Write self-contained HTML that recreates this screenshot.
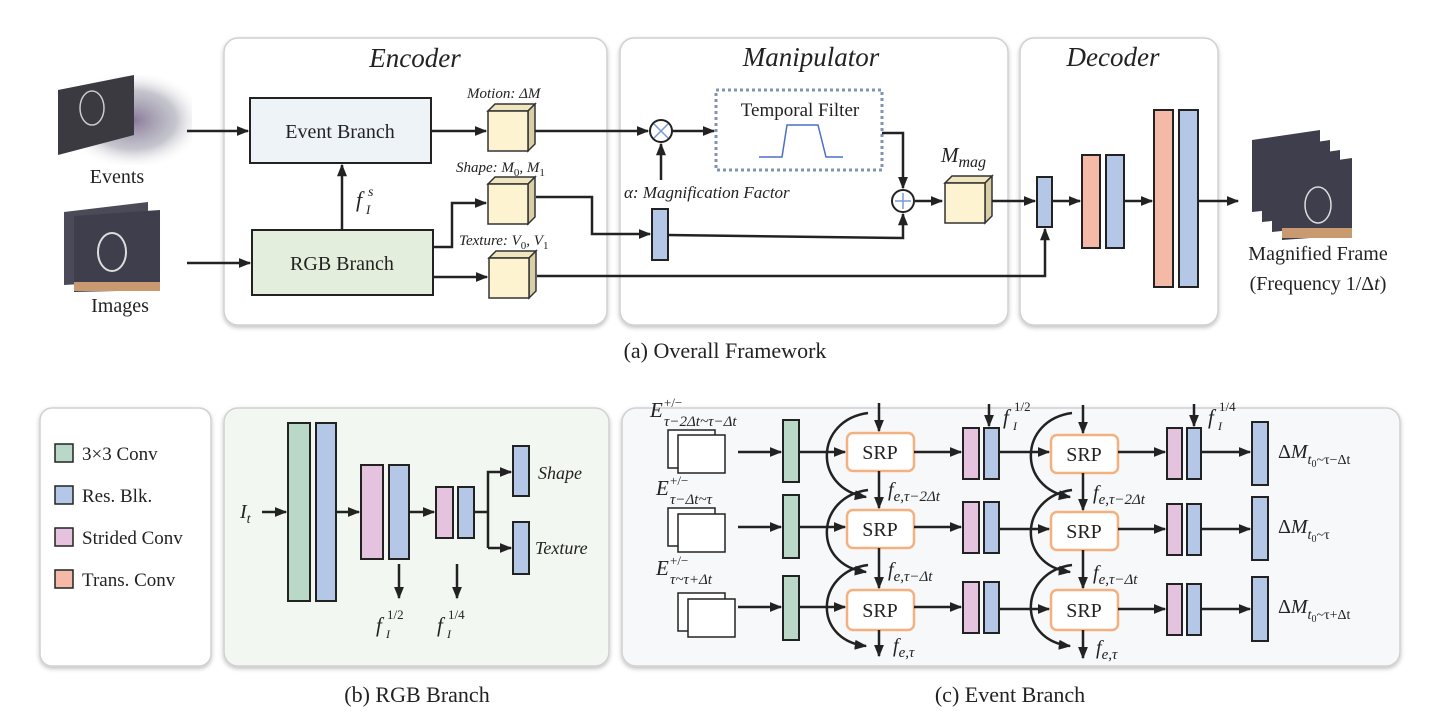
<!DOCTYPE html>
<html><head><meta charset="utf-8"><style>
html,body{margin:0;padding:0;background:#fff;}
svg{display:block;font-family:"Liberation Serif",serif;}
</style></head><body>
<svg width="1449" height="724" viewBox="0 0 1449 724" xmlns="http://www.w3.org/2000/svg">
<defs>
<marker id="a" viewBox="0 0 10 10" refX="9" refY="5" markerWidth="5" markerHeight="5" orient="auto-start-reverse" markerUnits="strokeWidth"><path d="M0,1 L10,5 L0,9 z" fill="#222"/></marker>
<filter id="sh" x="-5%" y="-5%" width="110%" height="110%"><feDropShadow dx="0" dy="2" stdDeviation="2" flood-color="#000" flood-opacity="0.25"/></filter>
<radialGradient id="ev" cx="0.55" cy="0.5" r="0.55"><stop offset="0" stop-color="#8a7a9a"/><stop offset="0.6" stop-color="#a0a0ae" stop-opacity="0.6"/><stop offset="1" stop-color="#fff" stop-opacity="0"/></radialGradient>
</defs>
<g fill="none" stroke="#222" stroke-width="2.5">
<g stroke="#d0d0d0" stroke-width="1.5" filter="url(#sh)">
<rect x="224" y="38" width="383" height="287" rx="14" fill="#fff"/>
<rect x="620" y="38" width="388" height="287" rx="14" fill="#fff"/>
<rect x="1020" y="38" width="198" height="287" rx="14" fill="#fff"/>
<rect x="40" y="408" width="171" height="258" rx="12" fill="#fff"/>
<rect x="224" y="408" width="385" height="258" rx="14" fill="#f3f7f1"/>
<rect x="622" y="408" width="778" height="258" rx="14" fill="#f7f8fa"/>
</g>
<g stroke="none">
<rect x="62" y="75" width="130" height="90" fill="url(#ev)"/>
<polygon points="58,90 134,75 134,135 58,155" fill="#3a3a40"/>
<ellipse cx="92" cy="108" rx="12" ry="17" stroke="#ccc" stroke-width="1.5" fill="none"/>
<polygon points="64,212 148,202 148,280 64,285" fill="#4a4a58"/>
<polygon points="74,216 160,210 160,290 74,292" fill="#3e3e4c"/>
<rect x="74" y="282" width="86" height="9" fill="#c99a70"/>
<ellipse cx="112" cy="252" rx="14" ry="19" stroke="#ddd" stroke-width="2" fill="none"/>
<g fill="#3e3e4c"><polygon points="1252,140 1320,130 1320,205 1252,212"/><polygon points="1262,150 1330,140 1330,215 1262,222"/><polygon points="1272,160 1340,150 1340,225 1272,232"/><polygon points="1282,168 1352,158 1352,235 1282,240"/></g>
<rect x="1282" y="228" width="70" height="10" fill="#c99a70"/>
<ellipse cx="1318" cy="205" rx="13" ry="18" stroke="#ddd" stroke-width="1.5" fill="none"/>
</g>
<rect x="250" y="98" width="181" height="65" fill="#eef3f8" stroke-width="2"/>
<rect x="252" y="230" width="181" height="65" fill="#e3efdc" stroke-width="2"/>
<path d="M187 131H248" marker-end="url(#a)"/>
<path d="M187 263H250" marker-end="url(#a)"/>
<path d="M342 230V165" marker-end="url(#a)"/>
<path d="M431 131H486" marker-end="url(#a)"/>
<path d="M433 247H452V203H486" marker-end="url(#a)"/>
<path d="M433 277H487" marker-end="url(#a)"/>
<g stroke-width="1.5" stroke="#333">
<g transform="translate(488,104)"><path d="M0 7L7 0H47L40 7z" fill="#efe5be"/><path d="M40 7L47 0V40L40 47z" fill="#d8cfa6"/><rect x="0" y="7" width="40" height="40" fill="#fdf3d0"/></g>
<g transform="translate(488,177)"><path d="M0 7L7 0H47L40 7z" fill="#efe5be"/><path d="M40 7L47 0V40L40 47z" fill="#d8cfa6"/><rect x="0" y="7" width="40" height="40" fill="#fdf3d0"/></g>
<g transform="translate(489,251)"><path d="M0 7L7 0H47L40 7z" fill="#efe5be"/><path d="M40 7L47 0V40L40 47z" fill="#d8cfa6"/><rect x="0" y="7" width="40" height="40" fill="#fdf3d0"/></g>
<g transform="translate(945,176)"><path d="M0 7L7 0H47L40 7z" fill="#efe5be"/><path d="M40 7L47 0V40L40 47z" fill="#d8cfa6"/><rect x="0" y="7" width="40" height="40" fill="#fdf3d0"/></g>
</g>
<path d="M535 131H648" marker-end="url(#a)"/>
<circle cx="661" cy="131" r="11" stroke-width="2" fill="#fff"/>
<path d="M654 124L668 138M668 124L654 138" stroke="#7a9ad8" stroke-width="1.5"/>
<path d="M672 131H714" marker-end="url(#a)"/>
<path d="M661 180V144" marker-end="url(#a)"/>
<rect x="716" y="90" width="166" height="80" stroke="#8093b0" stroke-width="3" stroke-dasharray="3,3"/>
<path d="M759 157H782L787 125H818L826 157H843" stroke="#4a70c8" stroke-width="1.5"/>
<path d="M882 133H903V188" marker-end="url(#a)"/>
<path d="M536 197H592V234H650" marker-end="url(#a)"/>
<rect x="652" y="209" width="16" height="51" fill="#b4c7e7" stroke-width="2"/>
<path d="M668 235L903 238V214" marker-end="url(#a)"/>
<circle cx="903" cy="201" r="11" stroke-width="2" fill="#fff"/>
<path d="M895 201H911M903 193V209" stroke="#7a9ad8" stroke-width="1.5"/>
<path d="M915 201H942" marker-end="url(#a)"/>
<path d="M537 276H1045V229" marker-end="url(#a)"/>
<path d="M992 201H1035" marker-end="url(#a)"/>
<g stroke-width="2">
<rect x="1037" y="177" width="15" height="50" fill="#b4c7e7"/>
<rect x="1082" y="155" width="18" height="93" fill="#f5b9a8"/>
<rect x="1106" y="155" width="18" height="93" fill="#b4c7e7"/>
<rect x="1154" y="110" width="19" height="177" fill="#f5b9a8"/>
<rect x="1179" y="110" width="19" height="177" fill="#b4c7e7"/>
</g>
<path d="M1052 201H1080" marker-end="url(#a)"/>
<path d="M1124 201H1152" marker-end="url(#a)"/>
<path d="M1198 201H1238" marker-end="url(#a)"/>
<g stroke-width="1.5">
<rect x="55" y="444" width="18" height="18" fill="#b9d8c8"/>
<rect x="55" y="486" width="18" height="18" fill="#b4c7e7"/>
<rect x="55" y="528" width="18" height="18" fill="#e5c3de"/>
<rect x="55" y="570" width="18" height="18" fill="#f5b9a8"/>
</g>
<g stroke-width="2">
<rect x="288" y="423" width="22" height="178" fill="#b9d8c8"/>
<rect x="316" y="423" width="20" height="178" fill="#b4c7e7"/>
<rect x="361" y="465" width="22" height="94" fill="#e5c3de"/>
<rect x="389" y="465" width="20" height="94" fill="#b4c7e7"/>
<rect x="436" y="487" width="17" height="51" fill="#e5c3de"/>
<rect x="458" y="487" width="16" height="51" fill="#b4c7e7"/>
<rect x="513" y="446" width="16" height="50" fill="#b4c7e7"/>
<rect x="513" y="522" width="16" height="52" fill="#b4c7e7"/>
</g>
<path d="M262 512H286" marker-end="url(#a)"/>
<path d="M336 512H359" marker-end="url(#a)"/>
<path d="M409 512H434" marker-end="url(#a)"/>
<path d="M474 512H488"/>
<path d="M488 548V472H511" marker-end="url(#a)"/>
<path d="M488 548H511" marker-end="url(#a)"/>
<path d="M399 564V598" marker-end="url(#a)"/>
<path d="M457 564V598" marker-end="url(#a)"/>
<g stroke-width="1.5" fill="#fff">
<rect x="668" y="430" width="47" height="38"/><rect x="678" y="435" width="47" height="38"/>
<rect x="668" y="508" width="47" height="38"/><rect x="678" y="514" width="47" height="38"/>
<rect x="678" y="593" width="47" height="38"/><rect x="688" y="599" width="47" height="38"/>
</g>
<g stroke-width="2">
<rect x="783" y="420" width="16" height="62" fill="#b9d8c8"/>
<rect x="783" y="495" width="16" height="63" fill="#b9d8c8"/>
<rect x="783" y="576" width="16" height="64" fill="#b9d8c8"/>
</g>
<g stroke="#f5b080" stroke-width="2.5" fill="#fff">
<rect x="847" y="433" width="67" height="38" rx="6"/>
<rect x="847" y="510" width="67" height="38" rx="6"/>
<rect x="847" y="590" width="67" height="40" rx="6"/>
<rect x="1051" y="435" width="67" height="38" rx="6"/>
<rect x="1051" y="512" width="67" height="38" rx="6"/>
<rect x="1051" y="590" width="67" height="40" rx="6"/>
</g>
<g stroke-width="2">
<rect x="963" y="428" width="16" height="51" fill="#e5c3de"/><rect x="984" y="428" width="15" height="51" fill="#b4c7e7"/>
<rect x="963" y="502" width="16" height="51" fill="#e5c3de"/><rect x="984" y="502" width="15" height="51" fill="#b4c7e7"/>
<rect x="963" y="582" width="16" height="51" fill="#e5c3de"/><rect x="984" y="582" width="15" height="51" fill="#b4c7e7"/>
<rect x="1167" y="428" width="15" height="51" fill="#e5c3de"/><rect x="1187" y="428" width="14" height="51" fill="#b4c7e7"/>
<rect x="1167" y="504" width="15" height="51" fill="#e5c3de"/><rect x="1187" y="504" width="14" height="51" fill="#b4c7e7"/>
<rect x="1167" y="584" width="15" height="51" fill="#e5c3de"/><rect x="1187" y="584" width="14" height="51" fill="#b4c7e7"/>
<rect x="1252" y="422" width="16" height="63" fill="#b4c7e7"/>
<rect x="1252" y="497" width="16" height="63" fill="#b4c7e7"/>
<rect x="1252" y="577" width="16" height="64" fill="#b4c7e7"/>
</g>
<path d="M738 452H781" marker-end="url(#a)"/><path d="M738 527H781" marker-end="url(#a)"/><path d="M738 607H781" marker-end="url(#a)"/>
<path d="M799 452H845" marker-end="url(#a)"/><path d="M799 527H845" marker-end="url(#a)"/><path d="M799 607H845" marker-end="url(#a)"/>
<path d="M914 452H961" marker-end="url(#a)"/><path d="M914 527H961" marker-end="url(#a)"/><path d="M914 607H961" marker-end="url(#a)"/>
<path d="M999 452H1049" marker-end="url(#a)"/><path d="M999 529H1049" marker-end="url(#a)"/><path d="M999 609H1049" marker-end="url(#a)"/>
<path d="M1118 452H1165" marker-end="url(#a)"/><path d="M1118 529H1165" marker-end="url(#a)"/><path d="M1118 609H1165" marker-end="url(#a)"/>
<path d="M1201 452H1250" marker-end="url(#a)"/><path d="M1201 529H1250" marker-end="url(#a)"/><path d="M1201 609H1250" marker-end="url(#a)"/>
<path d="M879 403V431" marker-end="url(#a)"/><path d="M879 471V508" marker-end="url(#a)"/><path d="M879 548V588" marker-end="url(#a)"/><path d="M879 630V656" marker-end="url(#a)"/>
<path d="M1083 405V433" marker-end="url(#a)"/><path d="M1083 473V510" marker-end="url(#a)"/><path d="M1083 550V588" marker-end="url(#a)"/><path d="M1083 630V658" marker-end="url(#a)"/>
<path d="M989 404V426" marker-end="url(#a)"/><path d="M1194 404V426" marker-end="url(#a)"/>
<path d="M868 413C815 420 812 488 866 497" marker-end="url(#a)"/>
<path d="M868 490C815 497 812 565 866 572" marker-end="url(#a)"/>
<path d="M868 565C815 572 812 640 866 646" marker-end="url(#a)"/>
<path d="M1072 413C1019 420 1016 488 1070 497" marker-end="url(#a)"/>
<path d="M1072 490C1019 497 1016 565 1070 572" marker-end="url(#a)"/>
<path d="M1072 565C1019 572 1016 640 1070 646" marker-end="url(#a)"/>
</g>
<g fill="#222" font-size="20">
<g font-style="italic" font-size="27" text-anchor="middle">
<text x="415" y="67">Encoder</text><text x="811" y="66">Manipulator</text><text x="1113" y="66">Decoder</text></g>
<text x="117" y="183" text-anchor="middle">Events</text>
<text x="120" y="312" text-anchor="middle">Images</text>
<text x="340" y="138" text-anchor="middle">Event Branch</text>
<text x="342" y="270" text-anchor="middle">RGB Branch</text>
<g font-style="italic"><text x="356" y="207" font-size="22">f</text><text x="368" y="196" font-size="14">s</text><text x="366" y="214" font-size="13">I</text></g>
<g font-style="italic" font-size="15">
<text x="467" y="98">Motion: ΔM</text>
<text x="456" y="172">Shape: M<tspan dy="4" font-size="11" font-style="normal">0</tspan><tspan dy="-4">, M</tspan><tspan dy="4" font-size="11" font-style="normal">1</tspan></text>
<text x="459" y="245">Texture: V<tspan dy="4" font-size="11" font-style="normal">0</tspan><tspan dy="-4">, V</tspan><tspan dy="4" font-size="11" font-style="normal">1</tspan></text>
<text x="624" y="198" font-size="17">α: Magnification Factor</text>
</g>
<text x="800" y="116" text-anchor="middle" font-size="19">Temporal Filter</text>
<text x="941" y="162" font-style="italic" font-size="21">M<tspan dy="5" font-size="16">mag</tspan></text>
<text x="1318" y="260" text-anchor="middle">Magnified Frame</text>
<text x="1318" y="290" text-anchor="middle">(Frequency 1/Δ<tspan font-style="italic">t</tspan>)</text>
<text x="725" y="358" text-anchor="middle" font-size="22">(a) Overall Framework</text>
<text x="417" y="702" text-anchor="middle" font-size="22">(b) RGB Branch</text>
<text x="1010" y="702" text-anchor="middle" font-size="22">(c) Event Branch</text>
<g font-size="19"><text x="82" y="460">3×3 Conv</text><text x="82" y="502">Res. Blk.</text><text x="82" y="544">Strided Conv</text><text x="82" y="586">Trans. Conv</text></g>
<text x="240" y="518" font-style="italic" font-size="20">I<tspan dy="5" font-size="14">t</tspan></text>
<text x="538" y="479" font-style="italic" font-size="18">Shape</text>
<text x="535" y="554" font-style="italic" font-size="18">Texture</text>
<g font-style="italic">
<text x="376" y="632" font-size="21">f</text><text x="387" y="619" font-size="13" font-style="normal">1/2</text><text x="386" y="638" font-size="12">I</text>
<text x="437" y="632" font-size="21">f</text><text x="448" y="619" font-size="13" font-style="normal">1/4</text><text x="447" y="638" font-size="12">I</text>
<text x="1003" y="424" font-size="21">f</text><text x="1014" y="411" font-size="13" font-style="normal">1/2</text><text x="1013" y="430" font-size="12">I</text>
<text x="1208" y="424" font-size="21">f</text><text x="1219" y="411" font-size="13" font-style="normal">1/4</text><text x="1218" y="430" font-size="12">I</text>
<text x="650" y="417" font-size="21">E</text><text x="664" y="407" font-size="13" font-style="normal">+/−</text><text x="664" y="426" font-size="15">τ−2Δt~τ−Δt</text>
<text x="656" y="495" font-size="21">E</text><text x="670" y="485" font-size="13" font-style="normal">+/−</text><text x="670" y="504" font-size="15">τ−Δt~τ</text>
<text x="656" y="575" font-size="21">E</text><text x="670" y="565" font-size="13" font-style="normal">+/−</text><text x="670" y="584" font-size="15">τ~τ+Δt</text>
<text x="888" y="496" font-size="20">f<tspan dy="5" font-size="15">e,τ−2Δt</tspan></text>
<text x="888" y="576" font-size="20">f<tspan dy="5" font-size="15">e,τ−Δt</tspan></text>
<text x="893" y="652" font-size="20">f<tspan dy="5" font-size="15">e,τ</tspan></text>
<text x="1093" y="499" font-size="20">f<tspan dy="5" font-size="15">e,τ−2Δt</tspan></text>
<text x="1093" y="579" font-size="20">f<tspan dy="5" font-size="15">e,τ−Δt</tspan></text>
<text x="1096" y="654" font-size="20">f<tspan dy="5" font-size="15">e,τ</tspan></text>
</g>
<g font-size="20">
<text x="1278" y="458">Δ<tspan font-style="italic">M</tspan><tspan dy="6" font-size="14" font-style="italic">t</tspan><tspan dy="3" font-size="10">0</tspan><tspan dy="-3" font-size="14">~τ−Δt</tspan></text>
<text x="1278" y="533">Δ<tspan font-style="italic">M</tspan><tspan dy="6" font-size="14" font-style="italic">t</tspan><tspan dy="3" font-size="10">0</tspan><tspan dy="-3" font-size="14">~τ</tspan></text>
<text x="1278" y="613">Δ<tspan font-style="italic">M</tspan><tspan dy="6" font-size="14" font-style="italic">t</tspan><tspan dy="3" font-size="10">0</tspan><tspan dy="-3" font-size="14">~τ+Δt</tspan></text>
</g>
<g text-anchor="middle" font-size="20">
<text x="880" y="459">SRP</text><text x="880" y="536">SRP</text><text x="880" y="617">SRP</text>
<text x="1084" y="461">SRP</text><text x="1084" y="538">SRP</text><text x="1084" y="617">SRP</text>
</g>
</g>
</svg>
</body></html>
